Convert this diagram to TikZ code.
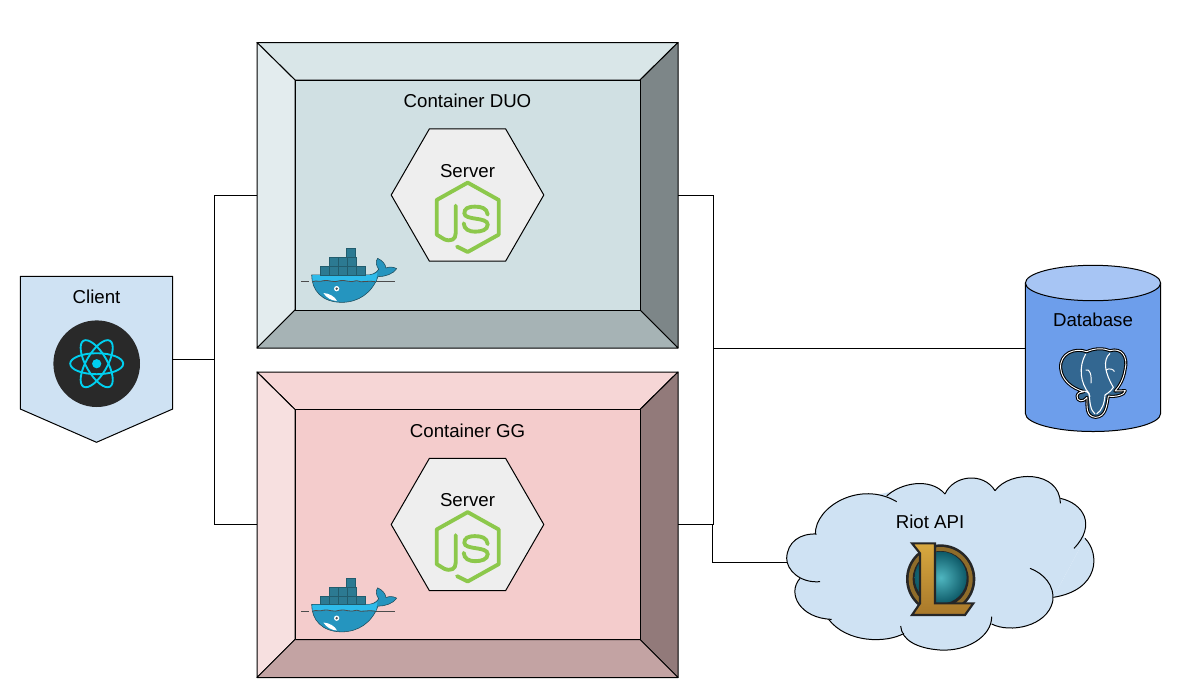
\documentclass[tikz,border=0pt]{standalone}
\usepackage{fontspec}
\setmainfont{Liberation Sans}
\usetikzlibrary{shapes.geometric}
\definecolor{duotop}{HTML}{D9E6E8}
\definecolor{duoleft}{HTML}{E3ECEE}
\definecolor{duomid}{HTML}{D0E0E3}
\definecolor{duoright}{HTML}{7D8688}
\definecolor{duobottom}{HTML}{A6B3B5}
\definecolor{ggtop}{HTML}{F6D6D6}
\definecolor{ggleft}{HTML}{F7E0E0}
\definecolor{ggmid}{HTML}{F4CCCC}
\definecolor{ggright}{HTML}{927A7A}
\definecolor{ggbottom}{HTML}{C3A3A3}
\definecolor{paleblue}{HTML}{CFE2F3}
\definecolor{dbbody}{HTML}{6D9EEB}
\definecolor{dbtop}{HTML}{A7C5F4}
\definecolor{nodegreen}{HTML}{8CC84B}
\definecolor{reactcyan}{HTML}{00D0F0}
\definecolor{boxteal}{HTML}{2C7A92}
\definecolor{whaleblue}{HTML}{2595BF}
\definecolor{whalelight}{HTML}{2EBBEA}
\definecolor{pgblue}{HTML}{336791}
\definecolor{lolgold}{HTML}{8F6C2A}
\definecolor{lollight}{HTML}{D8A83F}
\definecolor{loldark}{HTML}{A8782A}
\definecolor{lolteal}{HTML}{4FB6C0}
\definecolor{loldeep}{HTML}{0E5A68}
\tikzset{
  label text/.style={font=\fontsize{14}{16}\selectfont, inner sep=0pt},
  anchor box/.style={inner sep=0pt, outer sep=0pt},
  line/.style={draw=black, line width=0.75pt},
  outline/.style={draw=black, line width=0.75pt, line join=round},
  server hex/.style={regular polygon, regular polygon sides=6, minimum size=152.6pt*0.75, draw=black, line width=0.75pt, fill=black!6.5, inner sep=0pt, outer sep=0pt},
  dockerlogo/.pic={
    \begin{scope}[x=0.25pt, y=-0.25pt]
      % water
      \draw[black!70, line width=0.6pt] (33,155) -- (58,155);
      \draw[black!70, line width=0.6pt] (255,155) -- (316,155);
      % hull and tail
      \draw[boxteal!60!black, line width=0.4pt, fill=whaleblue] (65,135) -- (225,135) .. controls (245,136) and (258,130) .. (266,118)
        .. controls (258,105) and (256,95) .. (263,85) .. controls (278,92) and (286,102) .. (288,114)
        .. controls (298,110) and (310,110) .. (320,116) .. controls (310,132) and (285,140) .. (264,140)
        .. controls (245,190) and (205,217) .. (155,217) .. controls (95,217) and (65,180) .. (65,135) -- cycle;
      \fill[whalelight] (67,135) -- (225,135) .. controls (240,136) and (250,135) .. (262,128) -- (258,154)
        .. controls (230,148) and (215,160) .. (200,152) .. controls (180,160) and (165,148) .. (150,152)
        .. controls (130,160) and (115,148) .. (100,152) .. controls (90,157) and (78,150) .. (68,154) -- cycle;
      \draw[black!70, line width=0.6pt] (68,155) .. controls (78,150) and (90,157) .. (100,152)
        .. controls (115,148) and (130,160) .. (150,152) .. controls (165,148) and (180,160) .. (200,152)
        .. controls (215,160) and (235,150) .. (255,155);
      % belly and eye
      \fill[white] (100,189) .. controls (118,190) and (135,200) .. (141,213) .. controls (125,212) and (110,204) .. (100,189) -- cycle;
      \fill[white] (140,176) circle (8);
      \fill[black!70] (140,176) circle (4);
      % containers
      \foreach \boxx in {90,117,144,171,198}
        \draw[boxteal!75!black, fill=boxteal, line width=0.4pt] (\boxx,110) rectangle ++(27,25);
      \foreach \boxx in {117,144,171}
        \draw[boxteal!75!black, fill=boxteal, line width=0.4pt] (\boxx,83) rectangle ++(27,27);
      \draw[boxteal!75!black, fill=boxteal, line width=0.4pt] (169,56) rectangle ++(27,27);
    \end{scope}
  },
  nodelogo/.pic={
    \begin{scope}[x=0.25pt, y=-0.25pt]
      % hexagon runs on into the J
      \draw[nodegreen, line width=2.9pt, line join=round, line cap=round]
        (-32,88) -- (0,104) -- (93,52) -- (93,-52) -- (0,-104) -- (-93,-52) -- (-93,52)
        -- (-70,66) .. controls (-50,74) and (-36,66) .. (-36,48) -- (-36,-35);
      % the S
      \draw[nodegreen, line width=2.9pt, line cap=round]
        (60,-8) .. controls (58,-28) and (40,-32) .. (22,-32) .. controls (0,-32) and (-10,-26) .. (-10,-12)
        .. controls (-10,10) and (60,-2) .. (60,22) .. controls (60,38) and (40,43) .. (24,43)
        .. controls (2,43) and (-10,36) .. (-12,18);
    \end{scope}
  },
  reactlogo/.pic={
    \fill[black!84] (0,0) circle (43.3);
    \foreach \orbit in {0,60,120}
      \draw[reactcyan, line width=1.4pt, rotate=\orbit] (0,0) ellipse (26.5 and 10.5);
    \fill[reactcyan] (0,0) circle (4.6);
  },
  pglogo/.pic={
    \begin{scope}[x=0.25pt, y=-0.25pt]
      \draw[black, line width=0.8pt, double=white, double distance=0.7pt, fill=pgblue, line join=round]
        (137,325) .. controls (133,280) and (180,262) .. (215,275) .. controls (240,264) and (265,264) .. (285,272)
        .. controls (320,262) and (340,290) .. (330,330) .. controls (325,360) and (312,380) .. (300,393)
        -- (331,392) .. controls (330,405) and (300,412) .. (280,408) .. controls (275,440) and (272,470) .. (242,472)
        .. controls (212,470) and (216,440) .. (216,412) .. controls (205,428) and (185,425) .. (186,408)
        .. controls (188,398) and (198,395) .. (207,395) .. controls (170,385) and (140,360) .. (137,325) -- cycle;
      \draw[white, line width=0.8pt] (212,282) .. controls (190,320) and (196,370) .. (222,400)
        .. controls (225,425) and (225,450) .. (240,462);
      \draw[white, line width=0.8pt] (285,280) .. controls (262,300) and (270,340) .. (295,382)
        .. controls (285,398) and (272,402) .. (270,405) .. controls (268,430) and (262,450) .. (245,462);
      \draw[white, line width=0.8pt] (198,395) .. controls (210,390) and (222,395) .. (225,410);
      \draw[white, line width=0.7pt] (212,330) .. controls (225,325) and (230,345) .. (228,370);
      \draw[white, line width=0.7pt] (272,330) .. controls (285,322) and (298,330) .. (298,335);
    \end{scope}
  },
  lollogo/.pic={
    \begin{scope}[x=0.25pt, y=-0.25pt]
      % ring
      \fill[black!85] (152,132) circle (104);
      \fill[lolgold] (152,132) circle (96);
      \fill[black!85] (152,132) circle (84);
      \shade[inner color=lolteal, outer color=loldeep] (152,128) circle (78);
      % the L
      \draw[black!85, line width=1.6pt, top color=lollight, bottom color=loldark, line join=miter]
        (66,25) -- (135,25) -- (135,205) -- (250,205) -- (225,240) -- (66,240) -- (90,205) -- (90,55) -- cycle;
    \end{scope}
  },
}
\begin{document}
\begin{tikzpicture}[x=0.75pt, y=-0.75pt]
  \useasboundingbox (0,0) rectangle (1188,697);
  % Draw the containers
  \foreach \boxname/\boxy/\boxlabel in {duo/0/Container DUO, gg/329.5/Container GG} {
    \begin{scope}[shift={(0,\boxy)}]
      \node[anchor box, minimum width=421*0.75pt, minimum height=306*0.75pt] (\boxname) at (467.5,195) {};
      \draw[outline, fill=\boxname top] (257,42.5) -- (678,42.5) -- (640,80) -- (295,80) -- cycle;
      \draw[outline, fill=\boxname left] (257,42.5) -- (295,80) -- (295,310) -- (257,348) -- cycle;
      \draw[outline, fill=\boxname right] (678,42.5) -- (678,348) -- (640,310) -- (640,80) -- cycle;
      \draw[outline, fill=\boxname bottom] (257,348) -- (295,310) -- (640,310) -- (678,348) -- cycle;
      \draw[outline, fill=\boxname mid] (295,80) rectangle (640,310);
      \node[label text] (\boxname title) at (467.5,101) {\boxlabel};
      \node[server hex] (server\boxname) at (467.5,195) {};
      \node[label text] (\boxname server) at (467.5,171) {Server};
      \pic at (467.7,217.3) {nodelogo};
      \pic at (290,230) {dockerlogo};
    \end{scope}
  }
  % Draw the client
  \node[anchor box, minimum width=152.4*0.75pt, minimum height=10pt] (client) at (96.5,359) {};
  \draw[outline, fill=paleblue] (20.3,276.3) -- (172.7,276.3) -- (172.7,409) -- (96.5,442.3) -- (20.3,409) -- cycle;
  \node[label text] (clienttitle) at (96.5,297) {Client};
  \pic at (96.7,363.7) {reactlogo};
  % Draw the database
  \node[anchor box, minimum width=135.2*0.75pt, minimum height=10pt] (db) at (1093,348.5) {};
  \draw[outline, fill=dbbody] (1025.4,283) -- (1025.4,413.5) arc[start angle=180, end angle=0, x radius=67.6, y radius=18] -- (1160.6,283) -- cycle;
  \draw[outline, fill=dbtop] (1093,283) ellipse (67.6 and 17.7);
  \node[label text] (dbtitle) at (1093,320) {Database};
  \pic at (1015,260) {pglogo};
  % Draw the cloud
  \begin{scope}[shift={(700,470)}, x=0.25pt, y=-0.25pt]
    \fill[paleblue] (346,192) -- (450,90) -- (650,50) -- (735,72) -- (810,35) -- (885,62) -- (980,30) -- (1081,85) -- (1155,205) -- (1060,382) -- (875,462) -- (720,540) -- (612,490) -- (500,500) -- (385,447) -- (310,400) -- (300,325) -- (260,265) -- cycle;
    \foreach \lobe in {
      {(346,192) .. controls (345,110) and (480,30) .. (590,95)},
      {(560,78) .. controls (600,40) and (690,20) .. (735,72)},
      {(735,72) .. controls (760,15) and (850,5) .. (885,62)},
      {(885,62) .. controls (930,0) and (1080,0) .. (1081,100)},
      {(1081,85) .. controls (1150,100) and (1190,165) .. (1122,235)},
      {(1155,205) .. controls (1200,250) and (1200,360) .. (1060,382)},
      {(990,295) .. controls (1030,310) and (1065,345) .. (1058,395) .. controls (1040,470) and (930,490) .. (875,462)},
      {(875,440) .. controls (875,500) and (800,545) .. (720,540) .. controls (650,535) and (605,510) .. (602,468)},
      {(612,490) .. controls (560,520) and (440,520) .. (385,447)},
      {(395,448) .. controls (300,445) and (260,370) .. (300,325)},
      {(360,335) .. controls (300,340) and (260,300) .. (260,265) .. controls (262,215) and (300,190) .. (350,192)}
    } {
      \fill[paleblue] \lobe;
      \draw[black, line width=0.75pt] \lobe;
    }
    \coordinate (riotwest) at (260,277);
  \end{scope}
  \node[label text] (riot) at (930,522.3) {Riot API};
  \pic at (890,535) {lollogo};
  % Draw the connections
  \coordinate (clientjoin) at (214.7,359);
  \coordinate (backjoin) at (713.3,348.5);
  \coordinate (riotjoin) at (712.5,524.5);
  \draw[line] (client.east) -- (clientjoin);
  \draw[line] (duo.west) -| (clientjoin);
  \draw[line] (gg.west) -| (clientjoin);
  \draw[line] (duo.east) -| (backjoin);
  \draw[line] (gg.east) -| (backjoin);
  \draw[line] (backjoin) -- (db.west);
  \draw[line] (riotjoin) |- (riotwest);
\end{tikzpicture}
\end{document}
